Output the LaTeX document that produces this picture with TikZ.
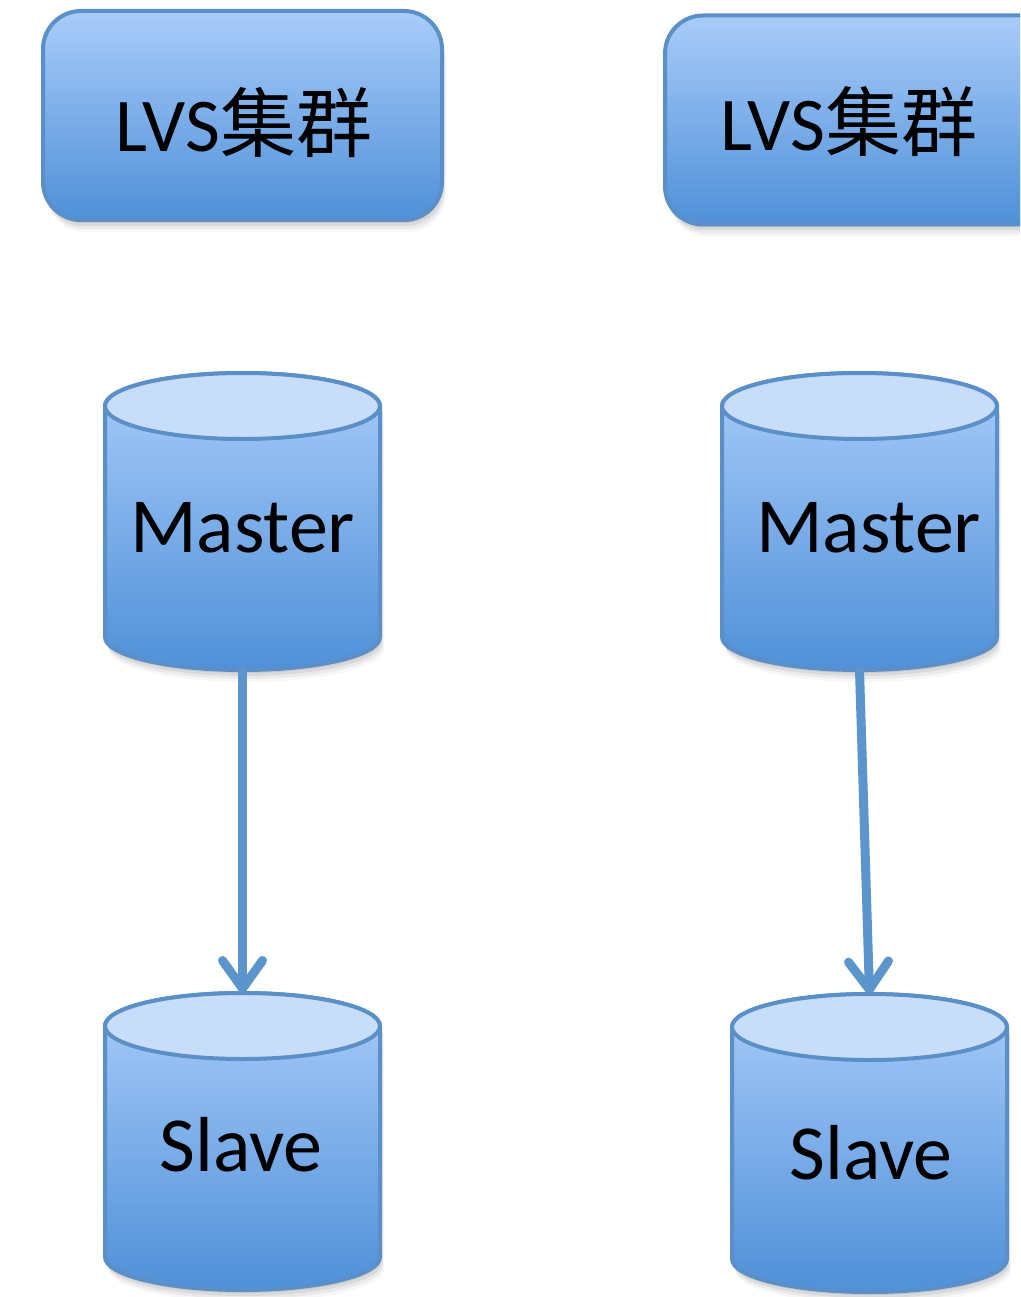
\documentclass[tikz,border=0pt]{standalone}
\usepackage{fontspec}
\setmainfont{Carlito}
\newfontfamily\cjk{Noto Sans CJK SC}
\usetikzlibrary{arrows.meta,shadows}

\definecolor{edge}{HTML}{5A8FC8}
\definecolor{filltop}{HTML}{A9CCFA}
\definecolor{fillbot}{HTML}{4F90D8}
\definecolor{captop}{HTML}{C8DDF9}
\definecolor{wire}{HTML}{5C94CC}

% database drum: #1 name, #2 left x, #3 right x, #4 top rim centre y, #5 bottom rim centre y
\newcommand\drum[5]{%
  \pgfmathsetmacro\drumrx{(#3-#2)/2}%
  \pgfmathsetmacro\drumcx{(#3+#2)/2}%
  \pgfmathsetmacro\drumw{#3-#2}%
  \pgfmathsetmacro\drumh{#5-#4+66}%
  \pgfmathsetmacro\drumcy{(#4+#5)/2}%
  \path[drumbody] (#2,#4) -- (#2,#5)
    arc[start angle=180,end angle=0,x radius=\drumrx,y radius=33] -- (#3,#4)
    arc[start angle=0,end angle=-180,x radius=\drumrx,y radius=33] -- cycle;
  \path[drumcap] (\drumcx,#4) ellipse[x radius=\drumrx,y radius=33];
  \node[hold,minimum width=\drumw pt,minimum height=\drumh pt] (#1) at (\drumcx,\drumcy) {};
}

\begin{document}
\begin{tikzpicture}[x=1pt,y=-1pt,
  % soft shadow built from a few faint offset copies
  softshadow/.style={
    drop shadow={shadow xshift=1pt,shadow yshift=-3pt,opacity=0.07,fill=black},
    drop shadow={shadow xshift=2pt,shadow yshift=-6pt,opacity=0.07,fill=black},
    drop shadow={shadow xshift=3pt,shadow yshift=-9pt,opacity=0.05,fill=black},
    drop shadow={shadow xshift=4pt,shadow yshift=-12pt,opacity=0.03,fill=black}},
  cluster/.style={rectangle,draw=edge,line width=4pt,rounded corners=38pt,
    top color=filltop,bottom color=fillbot,minimum width=399pt,minimum height=209pt,
    inner sep=0pt,softshadow},
  drumbody/.style={draw=edge,line width=4pt,top color=filltop,bottom color=fillbot,softshadow},
  drumcap/.style={draw=edge,line width=4pt,fill=captop},
  hold/.style={rectangle,inner sep=0pt,outer sep=0pt},
  caption/.style={anchor=base,inner sep=0pt,font=\fontsize{78}{90}\selectfont},
  title/.style={anchor=base,inner sep=0pt,font=\fontsize{76}{90}\selectfont},
  link/.style={draw=wire,line width=9pt,line cap=round,
    -{Straight Barb[length=28pt,width=40pt,round]}},
]
\clip (0,0) rectangle (1020,1297);

% cluster boxes
\node[cluster] (lvsA) at (242.5,115.5) {};
\node[cluster] (lvsB) at (864.5,120) {};
\node[title] (lvsAt) at (244,152) {LVS{\cjk 集群}};
\node[title] (lvsBt) at (849,151) {LVS{\cjk 集群}};

% database drums
\drum{mA}{105}{380}{406}{637}
\drum{mB}{722}{997}{406}{637}
\drum{sA}{105}{380}{1026}{1257}
\drum{sB}{732}{1007}{1027}{1259}

\node[caption] (mAt) at (242.5,552) {Master};
\node[caption] (mBt) at (868.5,552) {Master};
\node[caption] (sAt) at (241,1171) {Slave};
\node[caption] (sBt) at (871,1179) {Slave};

% replication links
\draw[link] (mA.south) -- (sA.north);
\draw[link] (mB.south) -- (sB.north);
\end{tikzpicture}
\end{document}
